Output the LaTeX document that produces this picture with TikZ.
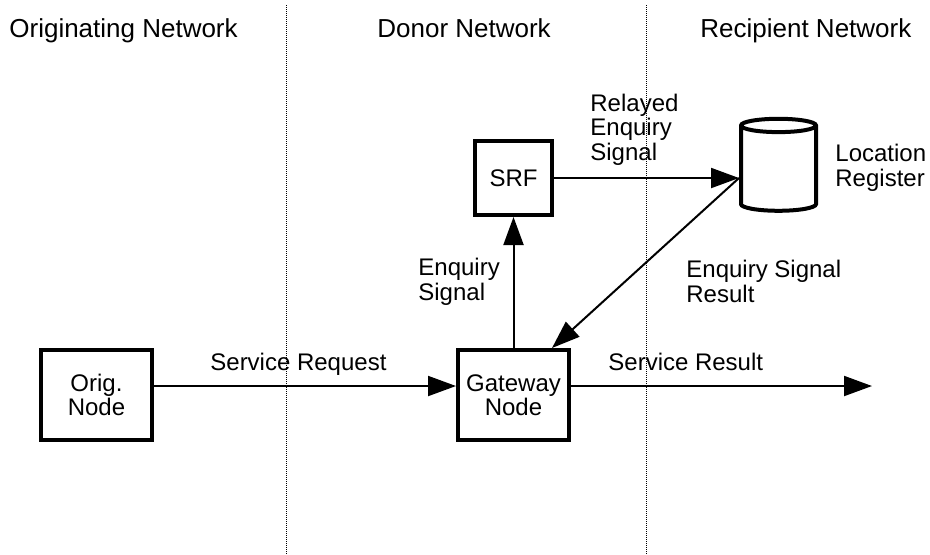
\documentclass[tikz,border=0pt]{standalone}
\usepackage{fontspec}
\setmainfont{Liberation Sans}
\usetikzlibrary{arrows.meta,positioning,shapes.geometric}

\begin{document}
\begin{tikzpicture}[x=0.5pt,y=-0.5pt,
  font=\fontsize{12}{12.25}\selectfont,
  netbox/.style={draw, line width=2pt, align=center, inner sep=0pt},
  flow/.style={line width=1pt, -{Triangle[length=14pt,width=10pt]}},
  divider/.style={line width=0.5pt, dash pattern=on 0.5pt off 0.5pt},
  note/.style={anchor=base west, align=left, inner sep=0pt},
  head/.style={anchor=base west, inner sep=0pt, font=\fontsize{13}{14}\selectfont}]
\useasboundingbox (0,0) rectangle (930,554);

\node (HO) [head] at (9,37) {Originating Network};
\node (HD) [head] at (377,37) {Donor Network};
\node (HR) [head] at (700,37) {Recipient Network};

\draw[divider] (286,5) -- (286,554);
\draw[divider] (646,5) -- (646,554);

\node (ON) [netbox, minimum width=55.5pt, minimum height=45pt] at (96.5,395) {Orig.\\Node};
\node (GW) [netbox, minimum width=55.5pt, minimum height=45pt, right of = ON, node distance=208.5pt] {Gateway\\Node};
\node (SRF) [netbox, minimum width=38.5pt, minimum height=37pt, above of = GW, node distance=108.5pt] {SRF};
\node (LR) [cylinder, shape border rotate=90, draw, line width=2pt, aspect=1,
  minimum width=37.5pt, minimum height=46pt] at (778.5,171) {};
\coordinate (SR) at (872,386);

\draw[flow] ([yshift=4.5pt]ON.east) -- ([yshift=4.5pt]GW.west);
\draw[flow] ([yshift=4.5pt]GW.east) -- (SR);
\draw[flow] (GW.north) -- (SRF.south);
\draw[flow] (SRF.east) -- (SRF.east -| LR.west);
\draw[flow] (SRF.east -| LR.west) -- ([xshift=-9.5pt]GW.north east);

% last line sits on the given baseline
\node (L1) [note] at (210,370) {Service Request};
\node (L2) [note] at (608,370) {Service Result};
\node (L3) [note] at (418,300) {Enquiry\\Signal};
\node (L4) [note] at (590,160) {Relayed\\Enquiry\\Signal};
\node (L5) [note] at (686,302) {Enquiry Signal\\Result};
\node (L6) [note] at (835,186) {Location\\Register};

\end{tikzpicture}
\end{document}
